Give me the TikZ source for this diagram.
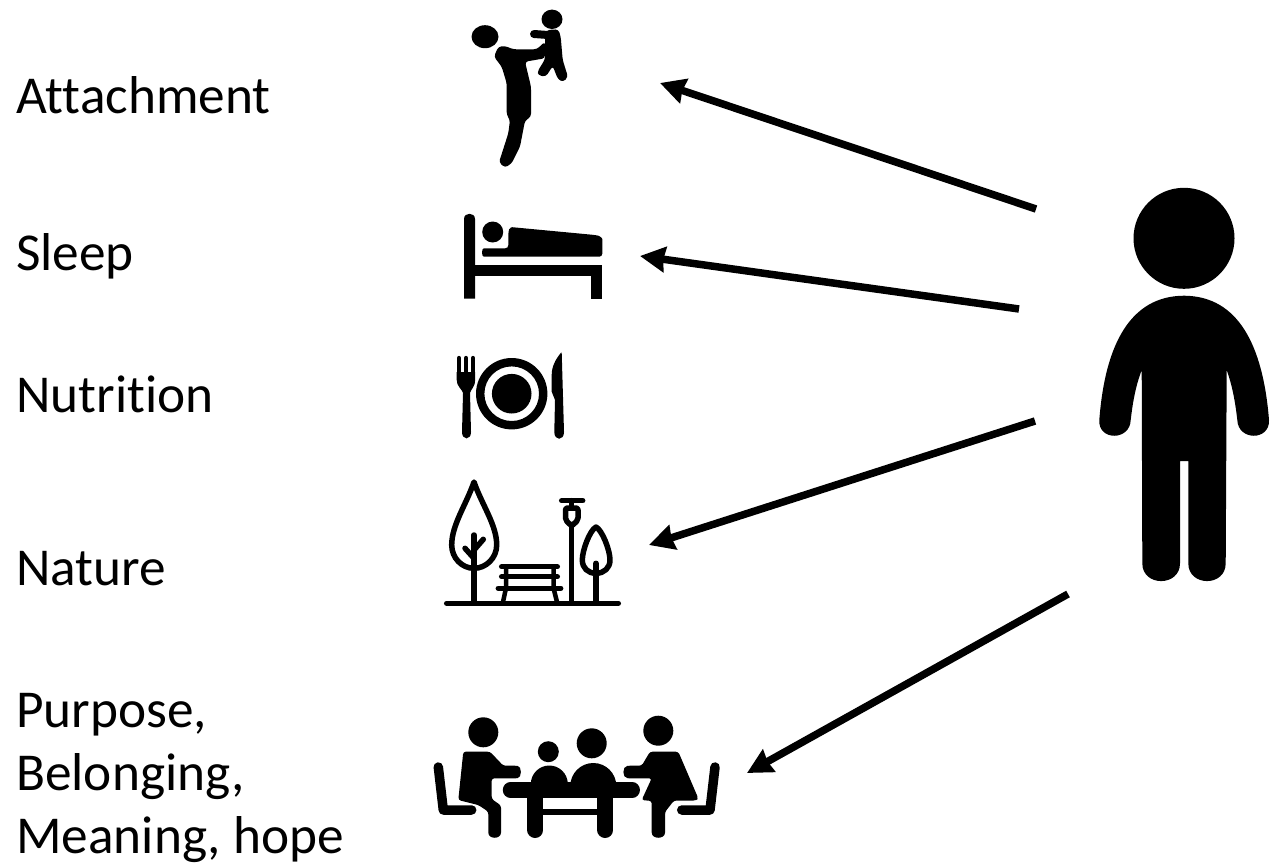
\documentclass[tikz,border=0pt]{standalone}
\usepackage{fontspec}
\setmainfont[Ligatures=CommonOff]{Carlito}
\usetikzlibrary{arrows.meta}
\tikzset{
  lbl/.style={anchor=base west,inner sep=0pt,font=\fontsize{53.3}{63}\selectfont},
  linkarrow/.style={line width=7.5pt,-{Stealth[length=25pt,width=25pt,inset=1.5pt]}},
  iconline/.style={line width=5.5pt,line cap=round,line join=round}
}

\begin{document}
\begin{tikzpicture}[x=1pt,y=-1pt]
\useasboundingbox (0,0) rectangle (1273,865);
% labels on the left
\node[lbl] (attach) at (16,113) {Attachment};
\node[lbl] (sleep) at (16,270) {Sleep};
\node[lbl] (nutri) at (16,412) {Nutrition};
\node[lbl] (nature) at (16,585) {Nature};
\node[lbl,anchor=north west,align=left] (purpose) at (16,693) {Purpose,\\Belonging,\\Meaning, hope};
% adult lifting child
\fill (485,36.7) ellipse [x radius=13.5,y radius=11.5];
\fill[rounded corners=3] (494,56.7) -- (498.3,46.7) -- (505,46) -- (513.3,49.3) -- (536.7,49.3) -- (545,41.7) -- (545,58.3) -- (525,61.7)
  -- (531,86.7) -- (531,116.7) -- (525,120.7) -- (520,146.7) -- (511.7,163.3) -- (505,167.7) -- (499,162.3) -- (508.3,133.3)
  -- (510,120) -- (506.7,115) -- (506.7,83.3) -- (501.7,66.7) -- cycle;
\fill (552,19.3) ellipse [x radius=10.5,y radius=9.7];
\draw[line width=8pt,line cap=round] (534,34) -- (548,35);
\fill[rounded corners=3] (546.7,30) -- (558.3,29.3) -- (560.7,36.7) -- (562.7,60) -- (568,77) -- (563,82) -- (558,79.3) -- (552.7,66)
  -- (546,76.5) -- (538.5,75.5) -- (537.5,71.5) -- (545,59.3) -- (545,40) -- cycle;
% bed
\fill (464,298.7) -- (464,219) .. controls (464,212) and (475,212) .. (475,219) -- (475,298.7) -- cycle;
\fill (464,265) rectangle (602.3,276);
\fill (591,265) rectangle (602.3,298.7);
\fill (492.7,232) circle (10.5);
\fill[rounded corners=3] (508.3,248.3) -- (508.3,231.7) -- (510,227) -- (513.3,227.3) -- (595,235) .. controls (600,236) and (602.3,238) .. (602.3,242)
  -- (602.3,256.7) -- (486.7,256.7) .. controls (481.5,256.7) and (481.5,248.3) .. (486.7,248.3) -- cycle;
% fork, plate and knife
\foreach \tx in {458.9,466,473} {\draw[line width=4.3pt,line cap=round] (\tx,358) -- (\tx,382);}
\fill (456.7,372) -- (456.7,380) .. controls (457,387) and (462,389) .. (463,393) -- (462,432) .. controls (462,440.5) and (471,440.5) .. (471,432)
  -- (470,393) .. controls (471,389) and (475,387) .. (475.2,380) -- (475.2,372) -- cycle;
\fill[even odd rule] (511.7,393.7) circle (35.7) (511.7,393.7) circle (27.3);
\fill (511.7,393.7) circle (19.8);
\fill (561.7,352.7) -- (561,352.7) .. controls (555,360) and (551.7,367) .. (551.7,375) -- (551.7,391.7) -- (555,400) -- (554.3,432)
  .. controls (554.3,441) and (564,441) .. (564,432) -- cycle;
% park
\draw[iconline] (446.7,603.3) -- (618.3,603.3);
\draw[iconline] (474,482) .. controls (466,505) and (451.7,525) .. (451.7,545) .. controls (451.7,558) and (462,568.3) .. (474,568.3)
  .. controls (486,568.3) and (496.7,558) .. (496.7,545) .. controls (496.7,525) and (482,505) .. (474,482) -- cycle;
\draw[iconline] (474,535) -- (474,603);
\draw[iconline] (465,548.3) -- (474,558.3) (483.3,539.3) -- (474,550);
\foreach \by/\bl/\br in {566.7/501.7/557.3,576.7/501.7/557.3,588.3/498.3/560.7} {\draw[iconline] (\bl,\by) -- (\br,\by);}
\draw[iconline,line width=4.5pt] (506,567) -- (506,588) -- (503,602) (553.5,567) -- (553.5,588) -- (557,602);
\draw[iconline] (561.7,500.7) -- (582.7,500.7) (571.7,500.7) -- (571.7,508);
\draw[iconline,rounded corners=2] (565.5,508) -- (578,508) -- (578,520) -- (571.7,526) -- (565.5,520) -- cycle;
\draw[iconline] (571.7,525) -- (571.7,603);
\draw[iconline] (596,527) .. controls (590,530) and (582.3,550) .. (582.3,560) .. controls (582.3,568) and (588,573.3) .. (596,573.3)
  .. controls (604,573.3) and (610,568) .. (610,560) .. controls (610,550) and (602,530) .. (596,527) -- cycle;
\draw[iconline] (596,563.3) -- (596,603);
% people round the table
\foreach \hx/\hy/\hr in {483.3/732.3/15,548.3/751.7/10.5,591.7/743.3/15,658.3/730.7/15} {\fill (\hx,\hy) circle (\hr);}
\draw[line width=15.3pt,line cap=round] (510.4,790) -- (632.3,790);
\draw[line width=16pt,line cap=round] (535.3,790) -- (535.3,830) (605.3,790) -- (605.3,830);
\fill (535,809.3) rectangle (605,815);
\fill (530.8,784) arc [start angle=180,end angle=360,radius=18.5] -- cycle;
\fill (570.3,786) arc [start angle=180,end angle=360,radius=23] -- cycle;
\fill[rounded corners=2.5] (463.3,751.7) -- (490,751.7) -- (503.3,765.7) -- (515,765.7) .. controls (522,766) and (522,778) .. (515,778.3) -- (491.7,778.3)
  -- (491.7,799) -- (501,805.5) -- (501,830) .. controls (501,839.5) and (488.3,839.5) .. (488.3,830) -- (488.3,811.7) -- (478.3,805) -- (458.3,800) -- cycle;
\fill[rounded corners=2.5] (650,751.7) -- (678.3,751.7) -- (698.3,798.3) -- (696,800.5) -- (674,800.5) -- (665,812) -- (665,830) .. controls (665,839.5) and (651.7,839.5) .. (651.7,830)
  -- (651.7,801) -- (641.7,800) -- (651.7,778.3) -- (630,778.3) .. controls (622,778) and (622,766) .. (630,765.7) -- (641.7,765.7) -- cycle;
\draw[line width=9.5pt,line cap=round,line join=round] (438.3,767) -- (443.3,810) -- (471.7,810);
\draw[line width=9.5pt,line cap=round,line join=round] (715,767) -- (710,810) -- (681.7,810);
% person on the right
\fill (1184,238.3) circle (50.5);
\fill (1184,295.7) .. controls (1238,296) and (1263,345) .. (1269,420) .. controls (1270,441) and (1238,441) .. (1237.3,420)
  .. controls (1235,400) and (1232,385) .. (1226.7,370) -- (1225.7,563.3) .. controls (1225.7,587) and (1188.3,587) .. (1188.3,563.3)
  -- (1188.3,461) -- (1180,461) -- (1180,563.3) .. controls (1180,587) and (1142.3,587) .. (1142.3,563.3) -- (1141.7,370)
  .. controls (1136,385) and (1133,400) .. (1130.7,420) .. controls (1130,441) and (1098,441) .. (1099.3,420)
  .. controls (1105,345) and (1130,296) .. (1184,295.7) -- cycle;
% arrows from the person to each icon
\coordinate (att-from) at (1036,209);
\coordinate (att-to) at (660,83);
\coordinate (slp-from) at (1019,309);
\coordinate (slp-to) at (640,256);
\coordinate (nat-from) at (1035,421);
\coordinate (nat-to) at (649,545);
\coordinate (pur-from) at (1068,594);
\coordinate (pur-to) at (747,773);
\draw[linkarrow] (att-from) -- (att-to);
\draw[linkarrow] (slp-from) -- (slp-to);
\draw[linkarrow] (nat-from) -- (nat-to);
\draw[linkarrow] (pur-from) -- (pur-to);
\end{tikzpicture}
\end{document}
